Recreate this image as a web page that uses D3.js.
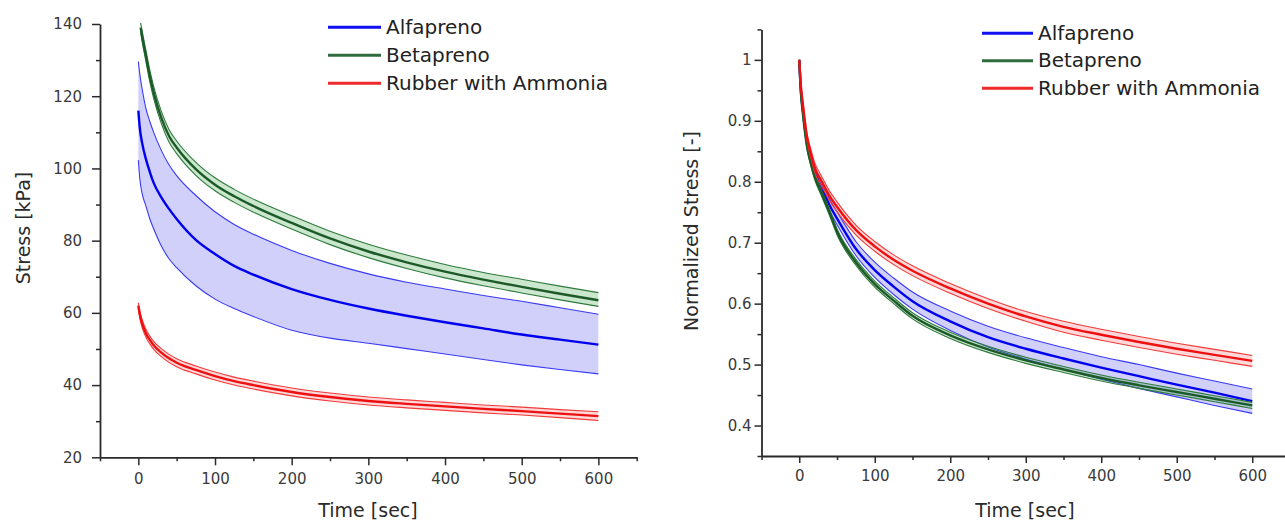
<!DOCTYPE html>
<html><head><meta charset="utf-8">
<script src="https://cdn.jsdelivr.net/npm/d3@7"></script>
<style>
html,body{margin:0;padding:0;background:#fff;}
svg{display:block;font-family:'DejaVu Sans',sans-serif;}
</style></head>
<body><svg id="chart" width="1285" height="522"></svg>
<script>
// ---------- DATA ----------
const seriesNames = ["Alfapreno", "Betapreno", "Rubber with Ammonia"];
const timeL = [0,2,5,10,15,20,30,40,50,75,100,125,150,200,250,300,350,400,450,500,550,600];
const timeB = [3,5,10,15,20,30,40,50,75,100,125,150,200,250,300,350,400,450,500,550,600];

// Left panel: Stress [kPa]
const alfaMean  = [116,111,107,102.5,99,96,92,88.8,86,80.2,76.3,73,70.6,66.6,63.6,61.2,59.2,57.4,55.7,54,52.6,51.2];
const alfaUpper = [129.6,126,122,116.5,113,110,105,101,98,92.5,88,84.5,81.8,77.3,73.7,70.8,68.5,66.6,64.8,63.2,61.4,59.6];
const alfaLower = [102.3,97,93,89.5,86,83.3,78.5,75,72.5,67.5,63.8,61.2,59,55.2,53,51.6,50.1,48.6,47.1,45.6,44.3,43.1];

const betaMean  = [139,136.5,131,125.5,121,114,109,105.8,99.8,95.5,92.3,89.6,84.9,80.6,77,74,71.4,69.2,67.2,65.3,63.5];
const betaUpper = [140.3,138,132.6,127.2,122.7,115.8,110.8,107.6,101.7,97.4,94.2,91.5,86.9,82.6,79,76,73.4,71.2,69.3,67.4,65.6];
const betaLower = [137.7,135.1,129.5,124,119.4,112.4,107.3,104.1,98.1,93.8,90.6,87.9,83.2,78.9,75.3,72.3,69.7,67.5,65.5,63.6,61.8];

const rubMean  = [62,59.5,57,54.3,52.5,51,49,47.4,46.2,44.2,42.5,41.1,40,38.1,36.7,35.6,34.8,34.1,33.4,32.8,32.1,31.4];
const rubUpper = [62.8,60.5,58.1,55.4,53.6,52.1,50.1,48.5,47.3,45.3,43.6,42.2,41.1,39.2,37.8,36.7,35.9,35.2,34.5,33.9,33.2,32.6];
const rubLower = [61.2,58.5,55.9,53.2,51.4,49.9,47.9,46.3,45.1,43.1,41.4,40,38.9,37,35.6,34.5,33.7,33,32.3,31.7,31,30.2];

// Right panel: Normalized Stress [-]
const nAlfaMean  = [1,0.952,0.915,0.866,0.838,0.818,0.79,0.762,0.74,0.69,0.655,0.628,0.604,0.571,0.545,0.526,0.510,0.495,0.481,0.467,0.454,0.440];
const nAlfaUpper = [1,0.955,0.92,0.872,0.845,0.826,0.799,0.772,0.751,0.702,0.668,0.642,0.619,0.588,0.563,0.544,0.528,0.513,0.5,0.486,0.473,0.460];
const nAlfaLower = [1,0.949,0.911,0.861,0.832,0.811,0.782,0.753,0.73,0.679,0.643,0.615,0.591,0.556,0.529,0.509,0.492,0.476,0.461,0.447,0.433,0.420];

const nBetaMean  = [1,0.95,0.91,0.86,0.832,0.81,0.78,0.75,0.718,0.668,0.632,0.605,0.58,0.548,0.525,0.507,0.492,0.478,0.466,0.455,0.444,0.433];
const nBetaUpper = [1,0.952,0.913,0.864,0.836,0.815,0.785,0.755,0.723,0.673,0.637,0.61,0.585,0.553,0.53,0.512,0.497,0.483,0.471,0.46,0.449,0.438];
const nBetaLower = [1,0.948,0.907,0.856,0.828,0.805,0.775,0.745,0.713,0.663,0.627,0.6,0.575,0.543,0.52,0.502,0.487,0.473,0.461,0.45,0.439,0.428];

const nRubMean  = [1,0.96,0.925,0.875,0.848,0.825,0.80,0.777,0.759,0.721,0.694,0.672,0.654,0.625,0.600,0.579,0.562,0.549,0.537,0.526,0.516,0.506];
const nRubUpper = [1,0.963,0.93,0.881,0.855,0.833,0.808,0.785,0.767,0.729,0.702,0.68,0.662,0.633,0.608,0.587,0.571,0.558,0.546,0.535,0.525,0.515];
const nRubLower = [1,0.957,0.92,0.869,0.841,0.817,0.792,0.769,0.751,0.713,0.686,0.664,0.646,0.617,0.592,0.571,0.553,0.54,0.528,0.517,0.507,0.497];

const xTicks = [0,100,200,300,400,500,600];
const xMinor = [-50,50,150,250,350,450,550,650];
const yTicksL = [20,40,60,80,100,120,140];
const yMinorL = [30,50,70,90,110,130];
const yTicksR = [0.4,0.5,0.6,0.7,0.8,0.9,1];
const yMinorR = [0.35,0.45,0.55,0.65,0.75,0.85,0.95,1.05];

// ---------- STYLE ----------
const styles = [
  {mean:"#0000ee", bound:"#3a3af5", fill:"rgba(60,60,240,0.24)", legend:"#1010f0"},
  {mean:"#1c5a28", bound:"#2e7a3c", fill:"rgba(70,170,80,0.28)", legend:"#2f6b3d"},
  {mean:"#ee1010", bound:"#f23a3a", fill:"rgba(255,80,80,0.22)", legend:"#ee2a2a"}
];

const svg = d3.select("#chart");

function zip(t, a){ return t.map((d,i)=>({t:d, v:a[i]})); }
function band(t, lo, hi){ return t.map((d,i)=>({t:d, lo:lo[i], hi:hi[i]})); }

function panel(cfg){
  const x = d3.scaleLinear().domain([-50,650]).range(cfg.xRange);
  const y = d3.scaleLinear().domain(cfg.yDomain).range(cfg.yRange);
  const g = svg.append("g");

  // series
  cfg.series.forEach((s,i)=>{
    const st = styles[i];
    const area = d3.area().x(d=>x(d.t)).y0(d=>y(d.lo)).y1(d=>y(d.hi)).curve(d3.curveMonotoneX);
    const line = d3.line().x(d=>x(d.t)).y(d=>y(d.v)).curve(d3.curveMonotoneX);
    g.append("path").datum(band(s.t, s.lo, s.hi)).attr("d", area).attr("fill", st.fill).attr("stroke","none");
    g.append("path").datum(zip(s.t, s.hi)).attr("d", line).attr("fill","none").attr("stroke", st.bound).attr("stroke-width",1.1);
    g.append("path").datum(zip(s.t, s.lo)).attr("d", line).attr("fill","none").attr("stroke", st.bound).attr("stroke-width",1.1);
    g.append("path").datum(zip(s.t, s.mean)).attr("d", line).attr("fill","none").attr("stroke", st.mean).attr("stroke-width",2.4);
  });

  // axes
  const axColor = "#2a2a2a";
  const xb = y.range()[0];
  const xl = x.range()[0];
  const ax = g.append("g").attr("transform",`translate(0,${xb})`)
    .call(d3.axisBottom(x).tickValues(xTicks).tickSize(cfg.tick).tickSizeOuter(0).tickPadding(cfg.xPad).tickFormat(d3.format("d")));
  g.append("g").attr("transform",`translate(0,${xb})`)
    .call(d3.axisBottom(x).tickValues(xMinor).tickSize(4).tickSizeOuter(0).tickFormat(""))
    .select(".domain").remove();
  const ay = g.append("g").attr("transform",`translate(${xl},0)`)
    .call(d3.axisLeft(y).tickValues(cfg.yTicks).tickSize(cfg.tick).tickSizeOuter(0).tickPadding(cfg.yPad).tickFormat(cfg.yFmt));
  g.append("g").attr("transform",`translate(${xl},0)`)
    .call(d3.axisLeft(y).tickValues(cfg.yMinor).tickSize(4).tickSizeOuter(0).tickFormat(""))
    .select(".domain").remove();
  g.selectAll(".domain").attr("stroke",axColor).attr("stroke-width",1.8);
  g.selectAll(".tick line").attr("stroke",axColor).attr("stroke-width",1.5);
  g.selectAll(".tick text").attr("fill","#3a3a3a").style("font-size","15px").style("font-family","'DejaVu Sans',sans-serif");

  // titles
  g.append("text").attr("x", cfg.xTitle[0]).attr("y", cfg.xTitle[1]).attr("text-anchor","middle")
    .attr("fill","#2a2a2a").style("font-size","19px").text("Time [sec]");
  g.append("text").attr("transform",`translate(${cfg.yTitle[0]},${cfg.yTitle[1]}) rotate(-90)`)
    .attr("text-anchor","middle").attr("dy","0.35em").attr("fill","#2a2a2a").style("font-size","19px").text(cfg.yLabel);

  // legend
  const lg = g.append("g");
  seriesNames.forEach((n,i)=>{
    const yy = cfg.legY + i*cfg.legDy;
    lg.append("line").attr("x1",cfg.legX[0]).attr("x2",cfg.legX[1]).attr("y1",yy).attr("y2",yy)
      .attr("stroke",styles[i].legend).attr("stroke-width",3);
    lg.append("text").attr("x",cfg.legX[1]+5).attr("y",yy).attr("dy","0.33em")
      .attr("fill","#222").style("font-size","20px").text(n);
  });
}

panel({
  xRange:[100,636.7], yDomain:[20,140], yRange:[457.3,24],
  yTicks:yTicksL, yMinor:yMinorL, yFmt:d3.format("d"), tick:8, xPad:8, yPad:10,
  xTitle:[368,517], yTitle:[23,228], yLabel:"Stress [kPa]",
  legX:[328,381], legY:27.3, legDy:28,
  series:[
    {t:timeL, mean:alfaMean, lo:alfaLower, hi:alfaUpper},
    {t:timeB, mean:betaMean, lo:betaLower, hi:betaUpper},
    {t:timeL, mean:rubMean, lo:rubLower, hi:rubUpper}
  ]
});

panel({
  xRange:[761.5,1290], yDomain:[0.35,1.05], yRange:[456,29.4],
  yTicks:yTicksR, yMinor:yMinorR, yFmt:d=>d===1?"1":d3.format(".1f")(d), tick:7, xPad:7, yPad:3,
  xTitle:[1025,517], yTitle:[691,231], yLabel:"Normalized Stress [-]",
  legX:[982,1033], legY:33.3, legDy:27.5,
  series:[
    {t:timeL, mean:nAlfaMean, lo:nAlfaLower, hi:nAlfaUpper},
    {t:timeL, mean:nBetaMean, lo:nBetaLower, hi:nBetaUpper},
    {t:timeL, mean:nRubMean, lo:nRubLower, hi:nRubUpper}
  ]
});
</script>
</body></html>
